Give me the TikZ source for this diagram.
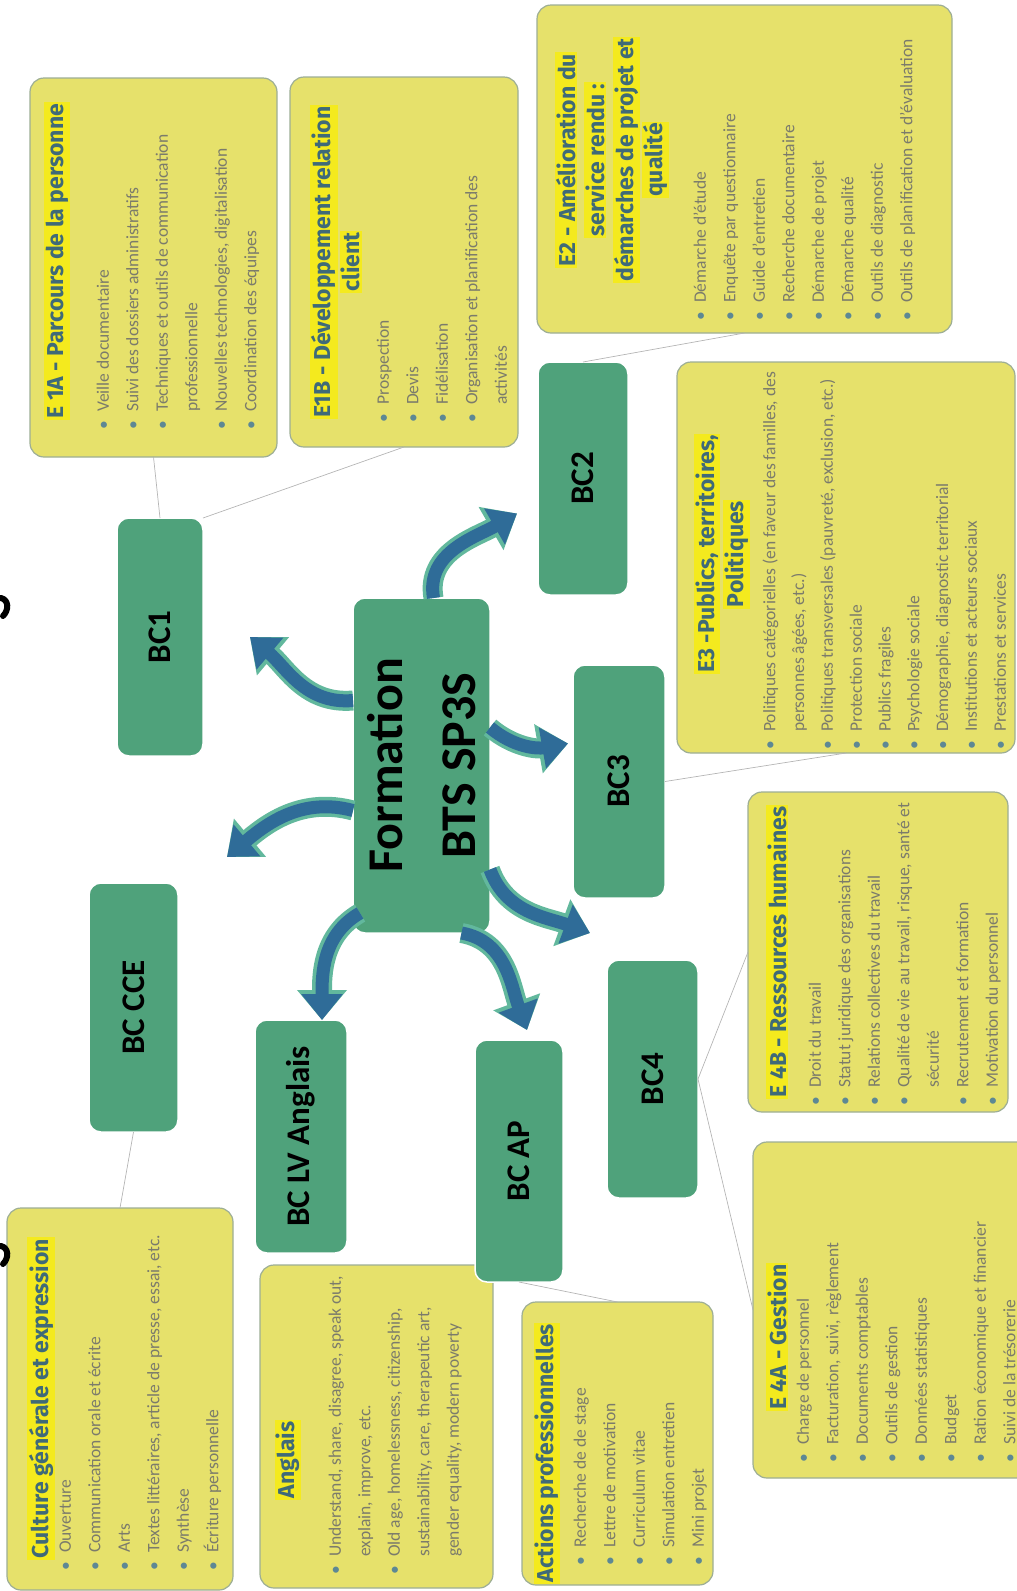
\documentclass[tikz,border=0pt]{standalone}
\usepackage{fontspec}
\setmainfont{Carlito}
\newfontfamily\titlefont{Fira Sans}
\usetikzlibrary{positioning, arrows.meta, calc}

\definecolor{boxyellow}{HTML}{E6E16B}
\definecolor{hlyellow}{HTML}{F4EA1E}
\definecolor{boxedge}{HTML}{9DAE95}
\definecolor{titleblue}{HTML}{3F6A78}
\definecolor{bodygray}{HTML}{7B7B6B}
\definecolor{bulletblue}{HTML}{5D8894}
\definecolor{bcgreen}{HTML}{4FA27B}
\definecolor{arrowblue}{HTML}{2F6C98}
\definecolor{arrowteal}{HTML}{62B89D}
\definecolor{linkgray}{HTML}{B5B5B5}

\setlength{\fboxsep}{1.5pt}
\newcommand{\hl}[1]{\colorbox{hlyellow}{#1}}
\newcommand{\bitem}[1]{\strut\makebox[18pt][l]{\textcolor{bulletblue}{\textbullet}}#1}
\newcommand{\bcont}[1]{\strut\hspace*{18pt}#1}
\newcommand{\bigarrow}[3]{\draw[arrowshade] #1 to[#2] #3; \draw[arrowbody] #1 to[#2] #3;}

\tikzset{
  ebox/.style={rotate=90, fill=boxyellow, draw=boxedge, line width=1.2pt, rounded corners=14pt, inner sep=0pt, outer sep=0pt},
  etitle/.style={rotate=90, align=center, inner sep=0pt, text=titleblue, font=\titlefont\bfseries\fontsize{23}{29}\selectfont},
  elist/.style={rotate=90, anchor=north west, inner sep=0pt, align=left, text=bodygray, font=\fontsize{17.5}{29.5}\selectfont},
  bcnode/.style={rotate=90, fill=bcgreen, draw=white, line width=1.5pt, rounded corners=12pt, inner sep=0pt, outer sep=0pt, font=\bfseries\fontsize{33}{36}\selectfont},
  link/.style={draw=linkgray, line width=0.7pt},
  arrowshade/.style={draw=arrowteal, line width=20pt, -{Triangle[width=48pt,length=30pt]}},
  arrowbody/.style={draw=arrowblue, line width=13pt, -{Triangle[width=40pt,length=26pt]}}
}

\begin{document}
\begin{tikzpicture}[x=1pt, y=-1pt]
\useasboundingbox (0,0) rectangle (1017,1591);
\clip (0,0) rectangle (1017,1591);

% yellow boxes
\node[ebox, minimum width=379pt, minimum height=247pt] (e1a) at (153.5,267.5) {};
\node[ebox, minimum width=370pt, minimum height=228pt] (e1b) at (404,262) {};
\node[ebox, minimum width=328pt, minimum height=415pt] (e2) at (744.5,169) {};
\node[ebox, minimum width=391pt, minimum height=338pt] (e3) at (846,557.5) {};
\node[ebox, minimum width=320pt, minimum height=260pt] (e4b) at (878,952) {};
\node[ebox, minimum width=336pt, minimum height=292pt] (e4a) at (899,1310) {};
\node[ebox, minimum width=382pt, minimum height=226pt] (cge) at (120,1399) {};
\node[ebox, minimum width=323pt, minimum height=233pt] (ang) at (376.5,1426.5) {};
\node[ebox, minimum width=283pt, minimum height=191pt] (apx) at (617.5,1443.5) {};

% titles
\node[etitle, anchor=west] (e1a-t) at (57,420) {\hl{E 1A - Parcours de la personne}};
\node[etitle] (e1b-t) at (336,262) {\hl{E1B - Développement relation}\\\hl{client}};
\node[etitle] (e2-t) at (612,160) {\hl{E2 - Amélioration du}\\\hl{service rendu :}\\\hl{démarches de projet et}\\\hl{qualité}};
\node[etitle] (e3-t) at (722,554) {\hl{E3 -Publics, territoires,}\\\hl{Politiques}};
\node[etitle, anchor=west] (e4b-t) at (777,1099) {\hl{E 4B - Ressources humaines}};
\node[etitle] (e4a-t) at (777,1337) {\hl{E 4A - Gestion}};
\node[etitle, anchor=west] (cge-t) at (41,1560) {\hl{Culture générale et expression}};
\node[etitle] (ang-t) at (288,1460) {\hl{Anglais}};
\node[etitle, anchor=west] (apx-t) at (547,1584) {\hl{Actions professionnelles}};

% lists
\node[elist] (e1a-l) at (88,430) {\bitem{Veille documentaire}\\
  \bitem{Suivi des dossiers administratifs}\\
  \bitem{Techniques et outils de communication}\\
  \bcont{professionnelle}\\
  \bitem{Nouvelles technologies, digitalisation}\\
  \bitem{Coordination des équipes}};
\node[elist] (e1b-l) at (368,423) {\bitem{Prospection}\\
  \bitem{Devis}\\
  \bitem{Fidélisation}\\
  \bitem{Organisation et planification des}\\
  \bcont{activités}};
\node[elist] (e2-l) at (685,321) {\bitem{Démarche d'étude}\\
  \bitem{Enquête par questionnaire}\\
  \bitem{Guide d'entretien}\\
  \bitem{Recherche documentaire}\\
  \bitem{Démarche de projet}\\
  \bitem{Démarche qualité}\\
  \bitem{Outils de diagnostic}\\
  \bitem{Outils de planification et d'évaluation}};
\node[elist, font=\fontsize{17.5}{28.8}\selectfont] (e3-l) at (755,750) {\bitem{Politiques catégorielles (en faveur des familles, des}\\
  \bcont{personnes âgées, etc.)}\\
  \bitem{Politiques transversales (pauvreté, exclusion, etc.)}\\
  \bitem{Protection sociale}\\
  \bitem{Publics fragiles}\\
  \bitem{Psychologie sociale}\\
  \bitem{Démographie, diagnostic territorial}\\
  \bitem{Institutions et acteurs sociaux}\\
  \bitem{Prestations et services}};
\node[elist] (e4b-l) at (800,1106) {\bitem{Droit du travail}\\
  \bitem{Statut juridique des organisations}\\
  \bitem{Relations collectives du travail}\\
  \bitem{Qualité de vie au travail, risque, santé et}\\
  \bcont{sécurité}\\
  \bitem{Recrutement et formation}\\
  \bitem{Motivation du personnel}};
\node[elist] (e4a-l) at (788,1463) {\bitem{Charge de personnel}\\
  \bitem{Facturation, suivi, règlement}\\
  \bitem{Documents comptables}\\
  \bitem{Outils de gestion}\\
  \bitem{Données statistiques}\\
  \bitem{Budget}\\
  \bitem{Ration économique et financier}\\
  \bitem{Suivi de la trésorerie}};
\node[elist] (cge-l) at (50,1571) {\bitem{Ouverture}\\
  \bitem{Communication orale et écrite}\\
  \bitem{Arts}\\
  \bitem{Textes littéraires, article de presse, essai, etc.}\\
  \bitem{Synthèse}\\
  \bitem{Écriture personnelle}};
\node[elist] (ang-l) at (320,1575) {\bitem{Understand, share, disagree, speak out,}\\
  \bcont{explain, improve, etc.}\\
  \bitem{Old age, homelessness, citizenship,}\\
  \bcont{sustainability, care, therapeutic art,}\\
  \bcont{gender equality, modern poverty}};
\node[elist] (apx-l) at (565,1566) {\bitem{Recherche de de stage}\\
  \bitem{Lettre de motivation}\\
  \bitem{Curriculum vitae}\\
  \bitem{Simulation entretien}\\
  \bitem{Mini projet}};

% green blocks
\node[bcnode, minimum width=335pt, minimum height=137pt, align=center,
  font=\bfseries\fontsize{50}{73}\selectfont] (form) at (421.5,765.5) {Formation\\BTS SP3S};
\node[bcnode, minimum width=238pt, minimum height=86pt] (bc1) at (160,637) {BC1};
\node[bcnode, minimum width=233pt, minimum height=90pt] (bc2) at (583,478.5) {BC2};
\node[bcnode, minimum width=233pt, minimum height=92pt] (bc3) at (619,781.5) {BC3};
\node[bcnode, minimum width=238pt, minimum height=91pt] (bc4) at (652.5,1079) {BC4};
\node[bcnode, minimum width=242pt, minimum height=88pt] (bcap) at (519,1161) {BC AP};
\node[bcnode, minimum width=233pt, minimum height=92pt] (bclv) at (301,1136.5) {BC LV Anglais};
\node[bcnode, minimum width=249pt, minimum height=89pt] (bccge) at (133.5,1007.5) {BC CCE};

% thin links
\draw[link] (bc1.east) -- (e1a.west);
\draw[link] (bc1.south east) -- (e1b.west);
\draw[link] (bc2.east) -- (e2.west);
\draw[link] (bc3.south) -- (e3.west);
\draw[link] (bc4.south) -- (e4b.north);
\draw[link] (bc4.south) -- (e4a.north);
\draw[link] (bccge.west) -- (cge.east);
\draw[link] (bcap.west) -- (apx.east);

% curved arrows
\bigarrow{([yshift=65pt]form.north)}{out=185,in=-40}{([xshift=47pt]bc1.south)}
\bigarrow{([yshift=-45pt]form.north)}{out=165,in=40}{([xshift=49pt,yshift=26pt]bccge.south east)}
\bigarrow{([xshift=12pt]form.east)}{out=100,in=210}{([xshift=-21pt,yshift=-35pt]bc2.north)}
\bigarrow{([yshift=38pt]form.south)}{out=-40,in=190}{([xshift=-5pt,yshift=38pt]bc3.north)}
\bigarrow{([yshift=-104pt]form.south)}{out=-70,in=160}{([xshift=-17pt,yshift=27pt]bc4.north east)}
\bigarrow{([xshift=40pt]form.west)}{out=-10,in=110}{([xshift=8pt,yshift=10pt]bcap.east)}
\bigarrow{([xshift=7pt,yshift=20pt]form.north west)}{out=210,in=90}{([xshift=21pt]bclv.east)}

% cut marks at the left edge
\draw[line width=6pt, line cap=round] (1,598) .. controls (9,600) and (9,610) .. (3,616);
\draw[line width=6pt, line cap=round] (1,1246) .. controls (9,1248) and (9,1258) .. (3,1264);
\end{tikzpicture}
\end{document}
